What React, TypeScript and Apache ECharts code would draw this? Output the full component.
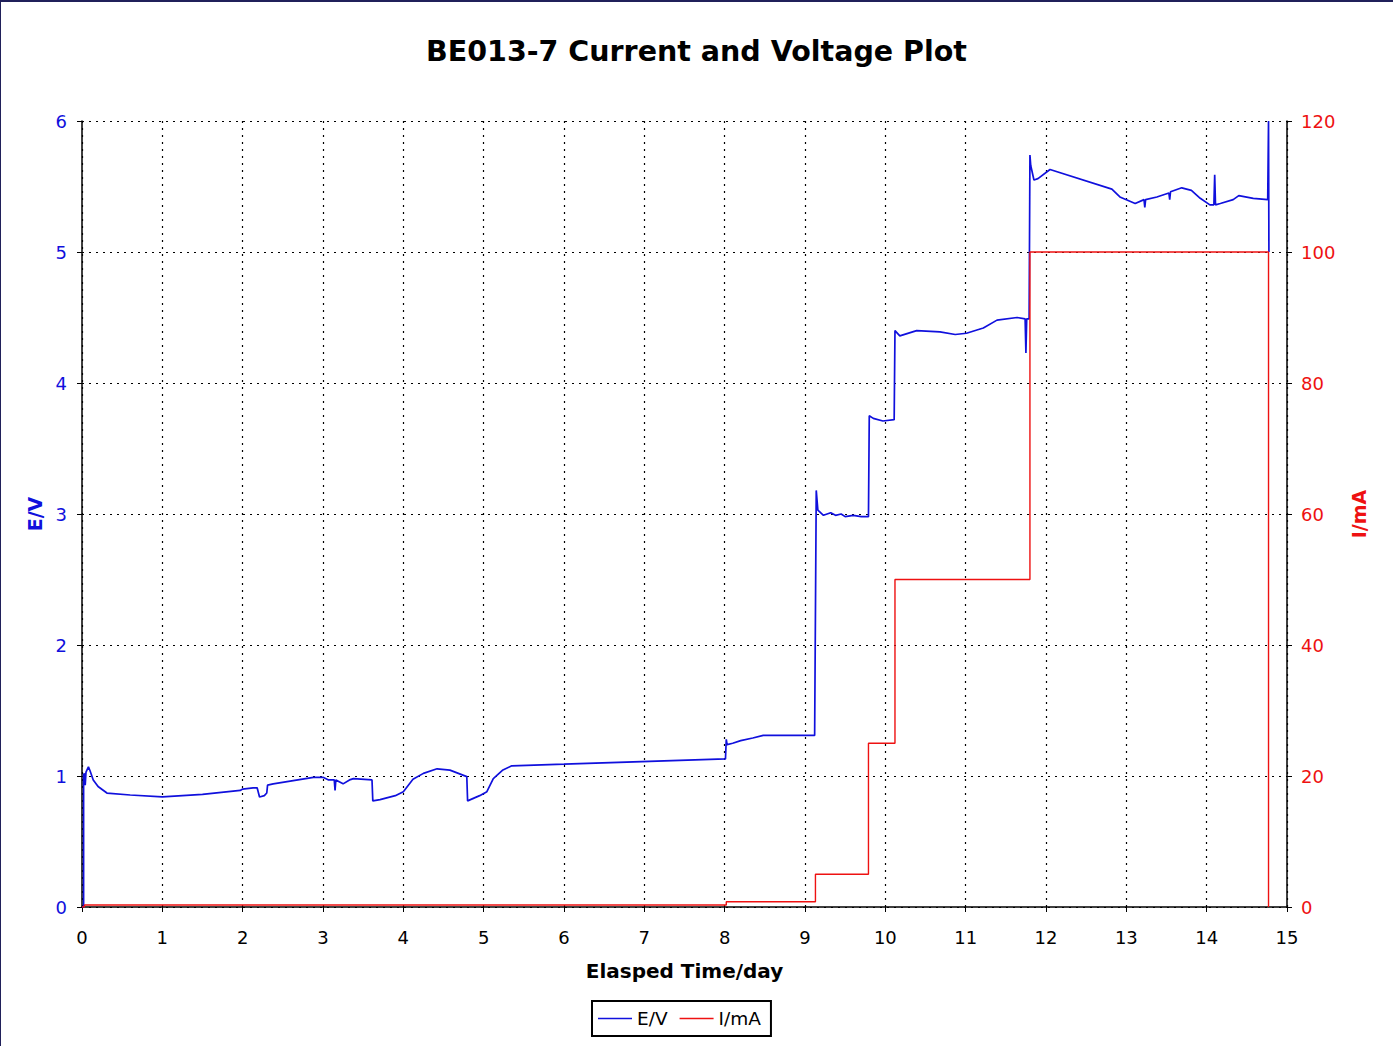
import React, { useEffect, useRef } from "react";
import * as echarts from "echarts";

const E_TIME = [0.0, 0.02, 0.02, 0.03, 0.04, 0.05, 0.08, 0.1, 0.14, 0.2, 0.31, 0.6, 1.0, 1.5, 1.97, 2.0, 2.13, 2.18, 2.21, 2.27, 2.3, 2.31, 2.38, 2.88, 3.0, 3.07, 3.14, 3.15, 3.16, 3.25, 3.33, 3.38, 3.61, 3.62, 3.71, 3.9, 4.0, 4.12, 4.25, 4.42, 4.58, 4.79, 4.8, 4.95, 5.04, 5.12, 5.24, 5.35, 6.0, 8.01, 8.02, 8.03, 8.1, 8.2, 8.35, 8.48, 9.12, 9.14, 9.16, 9.23, 9.32, 9.38, 9.45, 9.5, 9.6, 9.7, 9.79, 9.8, 9.85, 9.97, 10.11, 10.12, 10.18, 10.39, 10.68, 10.87, 11.01, 11.22, 11.39, 11.64, 11.74, 11.75, 11.76, 11.79, 11.8, 11.81, 11.85, 11.9, 12.05, 12.82, 12.92, 13.11, 13.22, 13.23, 13.24, 13.38, 13.53, 13.54, 13.55, 13.69, 13.81, 13.92, 14.04, 14.09, 14.1, 14.11, 14.17, 14.33, 14.4, 14.58, 14.76, 14.77, 14.775];
const E_VOLT = [0.0, 0.0, 1.01, 1.02, 0.93, 1.03, 1.07, 1.04, 0.97, 0.92, 0.87, 0.855, 0.84, 0.86, 0.89, 0.9, 0.91, 0.91, 0.84, 0.85, 0.87, 0.93, 0.94, 0.99, 0.99, 0.97, 0.97, 0.89, 0.97, 0.94, 0.97, 0.98, 0.97, 0.81, 0.82, 0.85, 0.88, 0.975, 1.02, 1.055, 1.045, 0.995, 0.81, 0.85, 0.88, 0.98, 1.046, 1.078, 1.09, 1.13, 1.28, 1.24, 1.25, 1.27, 1.29, 1.31, 1.31, 3.18, 3.03, 2.99, 3.01, 2.99, 3.0, 2.98, 2.99, 2.98, 2.98, 3.75, 3.73, 3.71, 3.72, 4.4, 4.36, 4.4, 4.39, 4.37, 4.38, 4.42, 4.48, 4.5, 4.49, 4.23, 4.49, 4.49, 5.74, 5.66, 5.55, 5.56, 5.63, 5.48, 5.42, 5.37, 5.4, 5.34, 5.4, 5.42, 5.45, 5.4, 5.46, 5.49, 5.47, 5.41, 5.36, 5.36, 5.59, 5.36, 5.37, 5.4, 5.43, 5.41, 5.4, 6.0, 5.0];

const I_TIME = [0.0, 0.03, 0.03, 8.02, 8.02, 9.13, 9.13, 9.79, 9.79, 10.12, 10.12, 11.8, 11.8, 14.77, 14.77];
const I_MA = [0, 0, 0.3, 0.3, 0.8, 0.8, 5, 5, 25, 25, 50, 50, 100, 100, 0];

const X_TICKS = [0, 15, 1];
const E_TICKS = [0, 6, 1];
const I_TICKS = [0, 120, 20];

const BLUE = "#1010dd";
const RED = "#ee1111";
const FONT = "DejaVu Sans";

export default function App() {
  const ref = useRef<HTMLDivElement>(null);
  useEffect(() => {
    document.body.style.margin = "0";
    const chart = echarts.init(ref.current!, null, { renderer: "svg" });
    const eData = E_TIME.map((t, i) => [t, E_VOLT[i]]);
    const iData = I_TIME.map((t, i) => [t, I_MA[i]]);
    chart.setOption({
      animation: false,
      backgroundColor: "#fff",
      title: {
        text: "BE013-7 Current and Voltage Plot",
        left: "center",
        top: 32,
        textStyle: { fontFamily: FONT, fontWeight: "bold", fontSize: 28.5, color: "#000" },
      },
      graphic: [
        { type: "line", shape: { x1: 0, y1: 1, x2: 1393, y2: 1 }, style: { stroke: "#20205a", lineWidth: 2 } },
        { type: "line", shape: { x1: 0.5, y1: 0, x2: 0.5, y2: 1046 }, style: { stroke: "#20205a", lineWidth: 1 } },
      ],
      grid: { left: 82, right: 106, top: 121, bottom: 139 },
      legend: {
        left: 592,
        bottom: 10,
        icon: "rect",
        itemWidth: 34,
        itemHeight: 1.5,
        itemGap: 12,
        padding: [8, 10, 8, 6],
        borderColor: "#000",
        borderWidth: 2,
        textStyle: { fontFamily: FONT, fontSize: 18.5, color: "#000" },
        data: ["E/V", "I/mA"],
      },
      xAxis: {
        type: "value",
        min: X_TICKS[0],
        max: X_TICKS[1],
        interval: X_TICKS[2],
        name: "Elasped Time/day",
        nameLocation: "middle",
        nameGap: 54,
        nameTextStyle: { fontFamily: FONT, fontWeight: "bold", fontSize: 20, color: "#000" },
        axisLine: { show: true, lineStyle: { color: "#000", width: 1.5 } },
        axisTick: { show: true, length: 5, lineStyle: { color: "#000" } },
        axisLabel: { margin: 21, fontFamily: FONT, fontSize: 18, color: "#000" },
        splitLine: { show: true, lineStyle: { color: "#000", type: [2, 5], width: 1.2 } },
      },
      yAxis: [
        {
          type: "value",
          position: "left",
          min: E_TICKS[0],
          max: E_TICKS[1],
          interval: E_TICKS[2],
          name: "E/V",
          nameLocation: "middle",
          nameRotate: 90,
          nameGap: 38,
          nameTextStyle: { fontFamily: FONT, fontWeight: "bold", fontSize: 19, color: BLUE },
          axisLine: { show: true, lineStyle: { color: "#000", width: 1.5 } },
          axisTick: { show: true, length: 5, lineStyle: { color: "#000" } },
          axisLabel: { margin: 15, fontFamily: FONT, fontSize: 18, color: BLUE },
          splitLine: { show: true, lineStyle: { color: "#000", type: [2, 5], width: 1.2 } },
        },
        {
          type: "value",
          position: "right",
          min: I_TICKS[0],
          max: I_TICKS[1],
          interval: I_TICKS[2],
          name: "I/mA",
          nameLocation: "middle",
          nameRotate: 90,
          nameGap: 62,
          nameTextStyle: { fontFamily: FONT, fontWeight: "bold", fontSize: 19, color: RED },
          axisLine: { show: true, lineStyle: { color: "#000", width: 1.5 } },
          axisTick: { show: true, length: 5, lineStyle: { color: "#000" } },
          axisLabel: { margin: 14, fontFamily: FONT, fontSize: 18, color: RED },
          splitLine: { show: false },
        },
      ],
      series: [
        {
          name: "E/V",
          type: "line",
          yAxisIndex: 0,
          data: eData,
          symbol: "none",
          lineStyle: { color: BLUE, width: 1.7 },
          itemStyle: { color: BLUE },
        },
        {
          name: "I/mA",
          type: "line",
          yAxisIndex: 1,
          data: iData,
          symbol: "none",
          lineStyle: { color: RED, width: 1.4 },
          itemStyle: { color: RED },
        },
      ],
    });
    return () => chart.dispose();
  }, []);
  return <div ref={ref} style={{ width: 1393, height: 1046 }} />;
}
